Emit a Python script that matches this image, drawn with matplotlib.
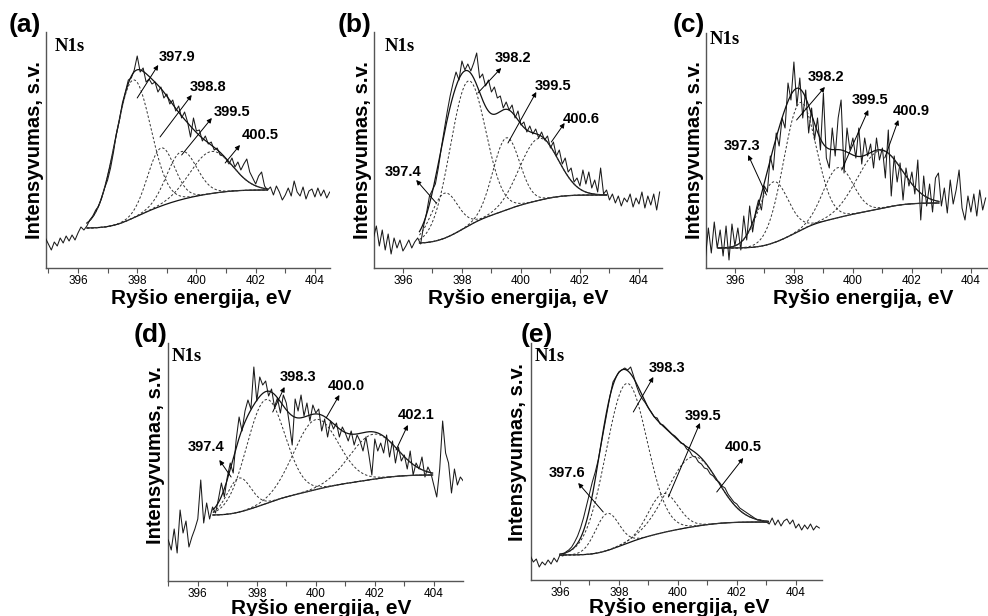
import numpy as np
import matplotlib
matplotlib.use("Agg")
import matplotlib.pyplot as plt
from matplotlib.ticker import MultipleLocator

# ------------------------------------------------------------------ data
energy_step = 0.1   # eV sampling of the measured spectra

# (a)
a_energy_start = 394.9
a_counts = [30, 24, 18, 26, 22, 30, 25, 32, 27, 33, 28, 35, 41, 38, 42, 48, 52, 58, 62, 70,
            80, 88, 100, 116, 135, 148, 165, 176, 188, 190, 198, 212, 196, 200, 186, 189, 184, 186, 176, 181,
            170, 174, 164, 168, 157, 162, 150, 156, 146, 131, 150, 137, 138, 127, 132, 124, 126, 118, 120, 113,
            112, 109, 104, 110, 101, 106, 98, 104, 109, 96, 90, 84, 92, 96, 82, 78, 81, 73, 82, 76,
            68, 73, 80, 72, 87, 76, 72, 81, 69, 77, 79, 71, 80, 72, 78, 70, 76]
a_fit_range = (396.3, 402.4)
a_background = (40, 78)
a_centers = [397.85, 398.8, 399.5, 400.5]
a_heights = [138, 58, 48, 42]
a_sigmas = [0.60, 0.45, 0.50, 0.70]
a_labels = ["397.9", "398.8", "399.5", "400.5"]

# (b)
b_energy_start = 395.0
b_counts = [30, 42, 22, 38, 18, 34, 14, 30, 20, 28, 17, 22, 28, 20, 26, 30, 24, 42, 55, 72,
            78, 84, 100, 120, 138, 156, 172, 185, 196, 188, 207, 198, 204, 197, 205, 215, 190, 194, 182, 188,
            176, 181, 170, 172, 160, 166, 158, 163, 150, 157, 143, 146, 136, 142, 134, 139, 130, 136, 128, 132,
            120, 126, 112, 118, 104, 110, 96, 100, 86, 90, 82, 98, 84, 96, 80, 88, 76, 100, 74, 78,
            68, 74, 65, 72, 62, 70, 66, 74, 61, 70, 64, 76, 60, 72, 63, 74, 58, 76]
b_fit_range = (396.56, 402.9)
b_background = (25, 73)
b_centers = [397.4, 398.2, 399.5, 400.6]
b_heights = [45, 145, 72, 62]
b_sigmas = [0.45, 0.60, 0.45, 0.65]
b_labels = ["397.4", "398.2", "399.5", "400.6"]

# (c)
c_energy_start = 395.0
c_counts = [10, 40, 15, 46, 20, 38, 12, 42, 8, 44, 22, 40, 18, 52, 28, 62, 36, 56, 68, 58,
            82, 76, 112, 98, 135, 122, 150, 140, 185, 168, 206, 162, 190, 150, 178, 135, 160, 128, 150, 118,
            175, 110, 100, 140, 112, 150, 168, 95, 140, 118, 130, 110, 140, 104, 130, 112, 124, 100, 130, 108,
            120, 90, 138, 72, 112, 86, 105, 68, 100, 82, 96, 74, 108, 48, 92, 62, 84, 56, 90, 95,
            62, 80, 55, 88, 64, 78, 98, 60, 48, 72, 56, 74, 52, 78, 58, 70]
c_fit_range = (395.43, 402.92)
c_background = (20, 65)
c_centers = [397.3, 398.2, 399.5, 400.9]
c_heights = [61, 128, 50, 58]
c_sigmas = [0.50, 0.55, 0.50, 0.75]
c_labels = ["397.3", "398.2", "399.5", "400.9"]

# (d)
d_energy_start = 395.0
d_counts = [41, 31, 52, 28, 71, 48, 60, 34, 44, 52, 62, 101, 58, 78, 62, 74, 68, 82, 98, 84,
            104, 118, 108, 141, 164, 150, 170, 181, 172, 214, 180, 204, 196, 200, 185, 192, 174, 183, 168, 186,
            178, 158, 136, 182, 170, 186, 165, 178, 160, 176, 168, 172, 150, 162, 144, 160, 152, 158, 144, 154,
            148, 140, 150, 136, 146, 140, 130, 144, 126, 106, 142, 130, 138, 128, 146, 124, 140, 118, 134, 120,
            126, 112, 130, 106, 118, 112, 124, 104, 114, 108, 96, 84, 112, 160, 128, 118, 88, 112, 96, 104, 100]
d_fit_range = (396.51, 403.96)
d_background = (66, 106)
d_centers = [397.4, 398.3, 400.0, 401.95]
d_heights = [34, 104, 70, 45]
d_sigmas = [0.40, 0.65, 0.75, 0.80]
d_labels = ["397.4", "398.3", "400.0", "402.1"]

# (e)
e_energy_start = 395.0
e_counts = [24, 18, 21, 13, 18, 15, 20, 16, 22, 18, 25, 24, 28, 30, 33, 38, 44, 52, 62, 74,
            86, 98, 108, 120, 136, 152, 168, 184, 198, 203, 208, 210, 212, 210, 213, 204, 194, 186, 181, 177,
            172, 168, 163, 162, 156, 155, 152, 149, 146, 144, 141, 137, 136, 131, 129, 124, 123, 118, 116, 112,
            111, 106, 104, 100, 98, 94, 92, 86, 82, 78, 76, 72, 70, 68, 66, 64, 62, 60, 60, 58,
            58, 56, 62, 55, 60, 54, 59, 61, 56, 60, 52, 56, 50, 55, 51, 56, 50, 54, 52]
e_fit_range = (396.0, 403.07)
e_background = (25, 58)
e_centers = [397.6, 398.25, 399.5, 400.5]
e_heights = [37, 160, 39, 70]
e_sigmas = [0.40, 0.70, 0.50, 0.85]
e_labels = ["397.6", "398.3", "399.5", "400.5"]

panel_letters = ["(a)", "(b)", "(c)", "(d)", "(e)"]
x_ticks = [396, 398, 400, 402, 404]
x_title = "Ryšio energija, eV"
y_title = "Intensyvumas, s.v."
core_level = "N1s"

# ------------------------------------------------------------------ layout
W, H = 988, 616
fig = plt.figure(figsize=(W / 100, H / 100), dpi=100)

SANS = "Liberation Sans"
SERIF = "Liberation Serif"


def rect(left, right, top, bottom):
    return [left / W, 1 - bottom / H, (right - left) / W, (bottom - top) / H]


def fxy(x, y):
    return x / W, 1 - y / H


panels = [
    dict(start=a_energy_start, counts=a_counts, fit=a_fit_range, bg=a_background,
         cen=a_centers, hgt=a_heights, sig=a_sigmas, lab=a_labels,
         rect=(46, 330, 32, 268), xlim=(394.92, 404.51), ytop=236,
         arrows=[((398.0, 170), (398.71, 203), (399.33, 211)),
                 ((398.77, 131), (399.84, 173), (400.40, 181)),
                 ((399.50, 113), (400.52, 150), (401.19, 156)),
                 ((400.97, 105), (401.47, 123), (402.15, 133))],
         letter=(25, 25), n1s=(55, 38), xl=(0.545, -0.128), yl=(-0.040, 0.5)),
    dict(start=b_energy_start, counts=b_counts, fit=b_fit_range, bg=b_background,
         cen=b_centers, hgt=b_heights, sig=b_sigmas, lab=b_labels,
         rect=(374, 662, 32, 268), xlim=(395.02, 404.78), ytop=236,
         arrows=[((397.13, 65), (396.45, 88), (396.00, 96)),
                 ((398.54, 175), (399.33, 200), (399.73, 210)),
                 ((399.56, 125), (400.52, 176), (401.08, 182)),
                 ((401.03, 126), (401.48, 145), (402.05, 149))],
         letter=(355, 25), n1s=(385, 38), xl=(0.50, -0.128), yl=(-0.040, 0.5)),
    dict(start=c_energy_start, counts=c_counts, fit=c_fit_range, bg=c_background,
         cen=c_centers, hgt=c_heights, sig=c_sigmas, lab=c_labels,
         rect=(706, 988, 33, 268), xlim=(395.02, 404.58), ytop=235,
         arrows=[((397.07, 73), (396.45, 113), (396.23, 122)),
                 ((398.09, 148), (399.05, 181), (399.10, 191)),
                 ((399.62, 98), (400.52, 158), (400.58, 168)),
                 ((401.08, 110), (401.54, 148), (401.99, 157))],
         letter=(689, 25), n1s=(710, 31), xl=(0.557, -0.128), yl=(-0.040, 0.5)),
    dict(start=d_energy_start, counts=d_counts, fit=d_fit_range, bg=d_background,
         cen=d_centers, hgt=d_heights, sig=d_sigmas, lab=d_labels,
         rect=(168, 463, 343, 581), xlim=(394.99, 404.99), ytop=238,
         arrows=[((397.13, 104), (396.73, 121), (396.28, 134)),
                 ((398.54, 169), (398.94, 194), (399.39, 204)),
                 ((400.35, 163), (400.80, 186), (401.03, 195)),
                 ((402.72, 131), (403.12, 156), (403.40, 166))],
         letter=(151, 335), n1s=(172, 348), xl=(0.52, -0.115), yl=(-0.042, 0.53)),
    dict(start=e_energy_start, counts=e_counts, fit=e_fit_range, bg=e_background,
         cen=e_centers, hgt=e_heights, sig=e_sigmas, lab=e_labels,
         rect=(531, 822, 343, 580), xlim=(395.02, 404.89), ytop=237,
         arrows=[((397.47, 68), (396.62, 97), (396.23, 107)),
                 ((398.49, 168), (399.17, 203), (399.62, 212)),
                 ((399.68, 83), (400.75, 157), (400.86, 164)),
                 ((401.32, 88), (402.22, 122), (402.22, 133))],
         letter=(537, 335), n1s=(535, 348), xl=(0.51, -0.115), yl=(-0.048, 0.54)),
]

for letter, p in zip(panel_letters, panels):
    ax = fig.add_axes(rect(*p["rect"]))
    counts = np.asarray(p["counts"], dtype=float)
    energy = p["start"] + energy_step * np.arange(len(counts))
    ax.plot(energy, counts, color="#1a1a1a", lw=0.75, zorder=3)

    # fitted components with Shirley-type background
    E = np.linspace(p["fit"][0], p["fit"][1], 400)
    comps = [h * np.exp(-0.5 * ((E - c) / s) ** 2)
             for c, h, s in zip(p["cen"], p["hgt"], p["sig"])]
    total = np.sum(comps, axis=0)
    cum = np.cumsum(total)
    frac = (cum - cum[0]) / (cum[-1] - cum[0])
    lo, hi = p["bg"]
    bg = lo + (hi - lo) * frac
    ax.plot(E, bg, color="#111111", lw=0.9, zorder=4)
    ax.plot(E, bg + total, color="#111111", lw=0.9, zorder=4)
    for comp in comps:
        ax.plot(E, bg + comp, color="#333333", lw=0.7, dashes=(2.5, 2), zorder=4)

    # arrows and peak labels
    for (tail, head, txt), lab in zip(p["arrows"], p["lab"]):
        ax.annotate("", xy=head, xytext=tail,
                    arrowprops=dict(arrowstyle="-|>", lw=0.7, color="k",
                                    mutation_scale=7, shrinkA=0, shrinkB=0),
                    zorder=5)
        ax.text(txt[0], txt[1], lab, ha="center", va="center", fontsize=10.5,
                fontweight="bold", family=SANS, zorder=6)

    ax.set_xlim(*p["xlim"])
    ax.set_ylim(0, p["ytop"])
    ax.set_xticks(x_ticks)
    ax.set_xticklabels([str(t) for t in x_ticks], fontsize=8.5, family=SANS)
    ax.xaxis.set_minor_locator(MultipleLocator(1))
    ax.tick_params(axis="x", which="both", direction="out", length=3.5,
                   width=0.8, color="#555555", pad=1.5)
    ax.set_yticks([])
    for s in ("top", "right"):
        ax.spines[s].set_visible(False)
    for s in ("left", "bottom"):
        ax.spines[s].set_color("#555555")
        ax.spines[s].set_linewidth(1.0)
    ax.patch.set_alpha(0)

    ax.set_xlabel(x_title, fontsize=15, fontweight="bold", family=SANS)
    ax.xaxis.set_label_coords(*p["xl"])
    ax.xaxis.label.set_va("center")
    ax.set_ylabel(y_title, fontsize=14.5, fontweight="bold", family=SANS)
    ax.yaxis.set_label_coords(*p["yl"])
    ax.yaxis.label.set_va("center")

    fig.text(*fxy(*p["letter"]), letter, ha="center", va="center", fontsize=19,
             fontweight="bold", family=SANS)
    fig.text(*fxy(*p["n1s"]), core_level, ha="left", va="top", fontsize=13.5,
             fontweight="bold", family=SERIF)

fig.savefig("out.png", dpi=100)
